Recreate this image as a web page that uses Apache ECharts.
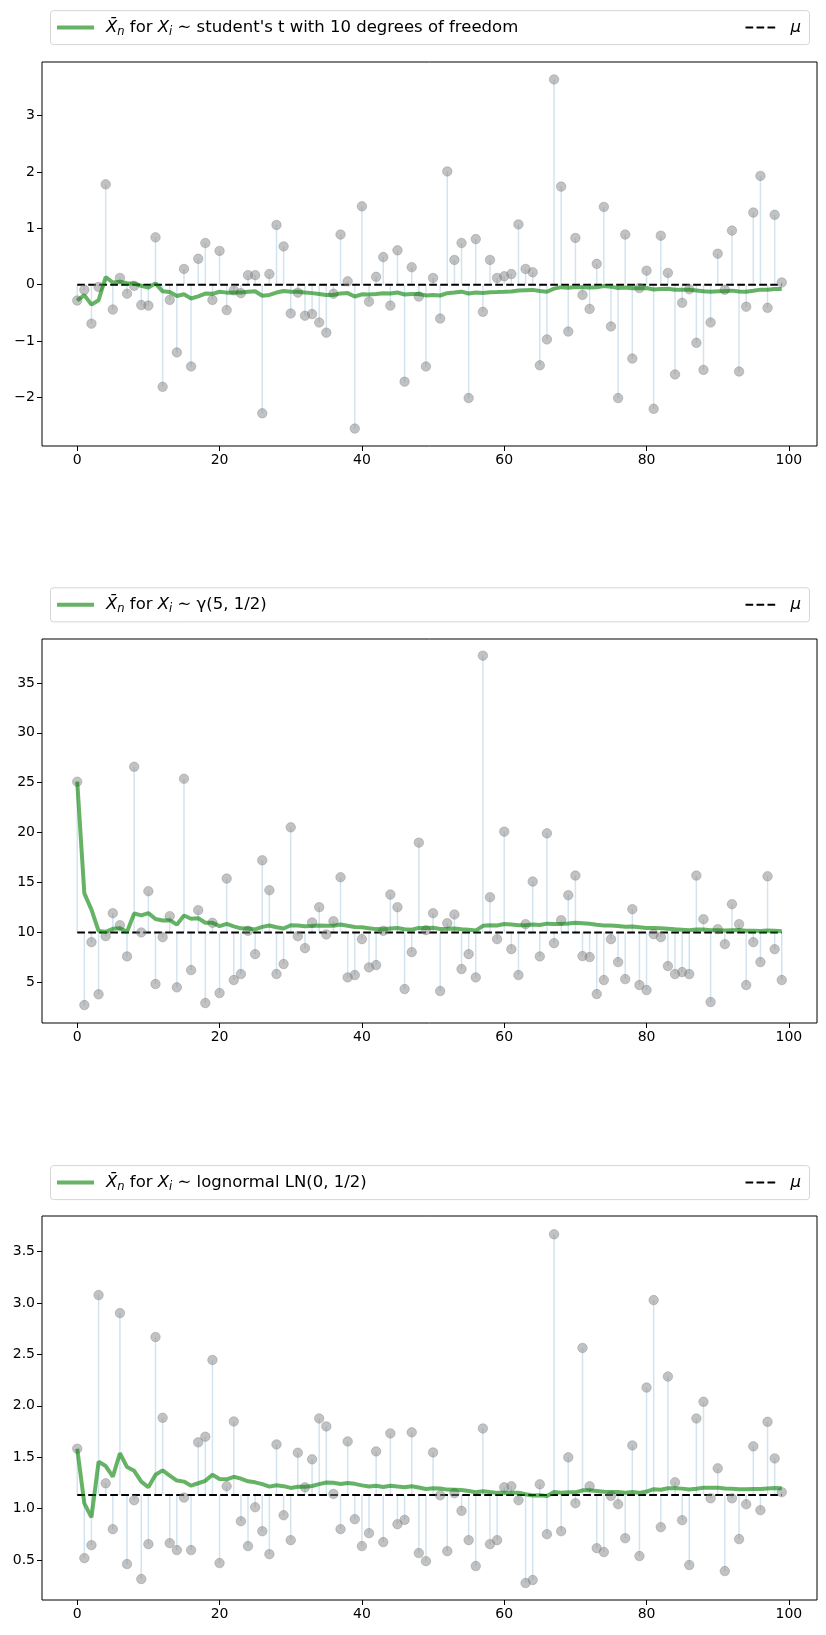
<!DOCTYPE html>
<html>
<head>
<meta charset="utf-8">
<script src="https://cdn.jsdelivr.net/npm/echarts@6/dist/echarts.min.js"></script>
<style>
  html, body { margin: 0; padding: 0; background: #fff; }
  #main { width: 826px; height: 1635px; }
</style>
</head>
<body>
<div id="main"></div>
<script>
// sample index n
var steps = [];
for (var n = 0; n < 100; n++) steps.push(n);

// student's t, 10 dof
var tVals = [
  -0.28, -0.09, -0.69, -0.04, 1.78, -0.44, 0.12, -0.16, -0.02, -0.36,
  -0.37, 0.84, -1.81, -0.27, -1.20, 0.28, -1.45, 0.46, 0.74, -0.27,
  0.60, -0.45, -0.10, -0.15, 0.17, 0.17, -2.28, 0.19, 1.06, 0.68,
  -0.51, -0.14, -0.55, -0.52, -0.67, -0.85, -0.16, 0.89, 0.06, -2.55,
  1.39, -0.30, 0.14, 0.49, -0.37, 0.61, -1.72, 0.31, -0.21, -1.45,
  0.12, -0.60, 2.01, 0.44, 0.74, -2.01, 0.81, -0.48, 0.44, 0.12,
  0.15, 0.19, 1.07, 0.28, 0.22, -1.43, -0.97, 3.64, 1.74, -0.83,
  0.83, -0.18, -0.43, 0.37, 1.38, -0.74, -2.01, 0.89, -1.31, -0.06,
  0.25, -2.20, 0.87, 0.21, -1.59, -0.32, -0.08, -1.03, -1.51, -0.67,
  0.55, -0.09, 0.96, -1.54, -0.39, 1.28, 1.93, -0.41, 1.24, 0.04
];

// gamma(5, 1/2)
var gammaVals = [
  25.1, 2.73, 9.03, 3.8, 9.63, 11.93, 10.73, 7.6, 26.6, 10.0,
  14.13, 4.83, 9.53, 11.63, 4.5, 25.4, 6.23, 12.23, 2.93, 10.97,
  3.93, 15.4, 5.23, 5.83, 10.17, 7.83, 17.23, 14.23, 5.83, 6.83,
  20.53, 9.62, 8.43, 11.0, 12.53, 9.8, 11.13, 15.53, 5.5, 5.73,
  9.33, 6.5, 6.73, 10.17, 13.8, 12.53, 4.33, 8.03, 19.0, 10.23,
  11.93, 4.13, 10.93, 11.8, 6.33, 7.83, 5.5, 37.73, 13.53, 9.33,
  20.1, 8.33, 5.73, 10.83, 15.1, 7.6, 19.93, 8.93, 11.23, 13.73,
  15.7, 7.63, 7.53, 3.83, 5.23, 9.33, 7.03, 5.33, 12.33, 4.73,
  4.23, 9.83, 9.53, 6.63, 5.83, 6.03, 5.83, 15.7, 11.33, 3.03,
  10.33, 8.83, 12.83, 10.83, 4.73, 9.03, 7.03, 15.63, 8.33, 5.23
];

// lognormal LN(0, 1/2)
var lognVals = [
  1.583, 0.519, 0.645, 3.077, 1.247, 0.801, 2.902, 0.461, 1.082, 0.316,
  0.655, 2.669, 1.884, 0.665, 0.597, 1.108, 0.597, 1.645, 1.70, 2.446,
  0.471, 1.218, 1.848, 0.878, 0.636, 1.014, 0.781, 0.558, 1.625, 0.936,
  0.694, 1.544, 1.208, 1.48, 1.877, 1.80, 1.143, 0.801, 1.654, 0.898,
  0.636, 0.762, 1.557, 0.675, 1.732, 0.849, 0.891, 1.742, 0.568, 0.49,
  1.547, 1.13, 0.587, 1.15, 0.979, 0.694, 0.442, 1.78, 0.655, 0.694,
  1.208, 1.218, 1.082, 0.277, 0.306, 1.237, 0.752, 3.668, 0.781, 1.499,
  1.053, 2.563, 1.218, 0.616, 0.578, 1.124, 1.043, 0.713, 1.615, 0.539,
  2.178, 3.028, 0.82, 2.285, 1.257, 0.888, 0.452, 1.877, 2.039, 1.101,
  1.392, 0.393, 1.101, 0.704, 1.043, 1.606, 0.985, 1.845, 1.489, 1.16
];

var muVals = [0, 10, 1.1331];
var distNames = [
  "student's t with 10 degrees of freedom",
  "\u03b3(5, 1/2)",
  "lognormal LN(0, 1/2)"
];

var xTicks = [0, 20, 40, 60, 80, 100];
var yTicks = [
  [-2, -1, 0, 1, 2, 3],
  [5, 10, 15, 20, 25, 30, 35],
  [0.5, 1.0, 1.5, 2.0, 2.5, 3.0, 3.5]
];
var yRanges = [[-2.86, 3.95], [0.93, 39.4], [0.112, 3.846]];

var FONT = 'DejaVu Sans';
var gridTops = [62, 639, 1216];
var gridH = 384;
var legendMid = [27.6, 604.8, 1182.6];

function runningMean(vals) {
  var out = [], s = 0;
  for (var i = 0; i < vals.length; i++) {
    s += vals[i];
    out.push([steps[i], s / (i + 1)]);
  }
  return out;
}

function minus(v) {
  return String(v).replace('-', '\u2212');
}

var chartDom = document.getElementById('main');
var myChart = echarts.init(chartDom, null, { renderer: 'canvas' });

var allVals = [tVals, gammaVals, lognVals];
var grids = [], xAxes = [], yAxes = [], series = [], legends = [], graphics = [];
var richNames = {};

for (var k = 0; k < 3; k++) {
  var vals = allVals[k];
  var mu = muVals[k];
  var meanName = 'Xbar_n ' + distNames[k];
  richNames[meanName] = '{it|X\u0304}{sub|n} for {it|X}{sub|i} \u223c ' + distNames[k];

  grids.push({
    left: 42, right: 9, top: gridTops[k], height: gridH,
    show: true, borderColor: '#000', borderWidth: 1, backgroundColor: 'transparent'
  });

  xAxes.push({
    type: 'value', gridIndex: k, min: -4.95, max: 103.95,
    axisLine: { show: false, onZero: false },
    splitLine: { show: false },
    axisTick: { show: true, length: 5, lineStyle: { color: '#000', width: 1 }, customValues: xTicks },
    axisLabel: { customValues: xTicks, color: '#000', fontSize: 14, fontFamily: FONT, margin: 7 }
  });

  yAxes.push({
    type: 'value', gridIndex: k, min: yRanges[k][0], max: yRanges[k][1],
    axisLine: { show: false, onZero: false },
    splitLine: { show: false },
    axisTick: { show: true, length: 5, lineStyle: { color: '#000', width: 1 }, customValues: yTicks[k] },
    axisLabel: {
      customValues: yTicks[k], color: '#000', fontSize: 14, fontFamily: FONT, margin: 7,
      formatter: k === 2 ? function (v) { return v.toFixed(1); } : function (v) { return minus(v); }
    }
  });

  var pts = vals.map(function (v, i) { return [steps[i], v]; });

  // stems from mu to each sample
  series.push({
    type: 'custom', xAxisIndex: k, yAxisIndex: k, silent: true, z: 1,
    data: pts,
    renderItem: (function (m) {
      return function (params, api) {
        var p0 = api.coord([api.value(0), m]);
        var p1 = api.coord([api.value(0), api.value(1)]);
        return {
          type: 'line',
          shape: { x1: p0[0], y1: p0[1], x2: p1[0], y2: p1[1] },
          style: { stroke: 'rgba(31,119,180,0.2)', lineWidth: 1.5 }
        };
      };
    })(mu)
  });

  series.push({
    name: '\u03bc', type: 'line', xAxisIndex: k, yAxisIndex: k, z: 2,
    data: [[0, mu], [99, mu]],
    symbol: 'none', silent: true,
    lineStyle: { color: '#000', width: 2, type: [7.7, 3.3] },
    itemStyle: { color: '#000' }
  });

  series.push({
    type: 'scatter', xAxisIndex: k, yAxisIndex: k, z: 3,
    data: pts, symbolSize: 9.5,
    itemStyle: { color: 'rgba(128,128,128,0.6)', borderColor: 'rgba(128,128,128,0.45)', borderWidth: 1 }
  });

  series.push({
    name: meanName, type: 'line', xAxisIndex: k, yAxisIndex: k, z: 4,
    data: runningMean(vals), symbol: 'none',
    lineStyle: { color: 'rgba(0,128,0,0.6)', width: 4 },
    itemStyle: { color: 'rgba(0,128,0,0.6)' }
  });

  var textStyle = {
    fontSize: 16.5, fontFamily: FONT, color: '#000', lineHeight: 20,
    padding: [0, 0, 0, 7],
    rich: {
      it: { fontSize: 16.5, fontFamily: FONT, fontStyle: 'italic', color: '#000', lineHeight: 20 },
      sub: { fontSize: 11.5, fontFamily: FONT, fontStyle: 'italic', color: '#000', lineHeight: 12, verticalAlign: 'bottom' }
    }
  };

  legends.push({
    data: [meanName], left: 55, top: legendMid[k] - 10, padding: 0,
    itemWidth: 37, itemHeight: 14, selectedMode: false,
    itemStyle: { opacity: 0 },
    lineStyle: { width: 4 },
    formatter: function (name) { return richNames[name] || name; },
    textStyle: textStyle
  });
  legends.push({
    data: ['\u03bc'], right: 25, top: legendMid[k] - 10, padding: 0,
    itemWidth: 33, itemHeight: 14, selectedMode: false,
    itemStyle: { opacity: 0 },
    lineStyle: { width: 2 },
    formatter: function () { return '{it|\u03bc}'; },
    textStyle: textStyle
  });

  graphics.push({
    type: 'rect', z: -1, silent: true,
    shape: { x: 50.5, y: legendMid[k] - 17, width: 759, height: 34, r: 3 },
    style: { fill: '#fff', stroke: '#d6d6d6', lineWidth: 1 }
  });
}

var option = {
  animation: false,
  backgroundColor: '#fff',
  textStyle: { fontFamily: FONT },
  grid: grids,
  xAxis: xAxes,
  yAxis: yAxes,
  legend: legends,
  graphic: graphics,
  series: series
};

option && myChart.setOption(option);
</script>
</body>
</html>
